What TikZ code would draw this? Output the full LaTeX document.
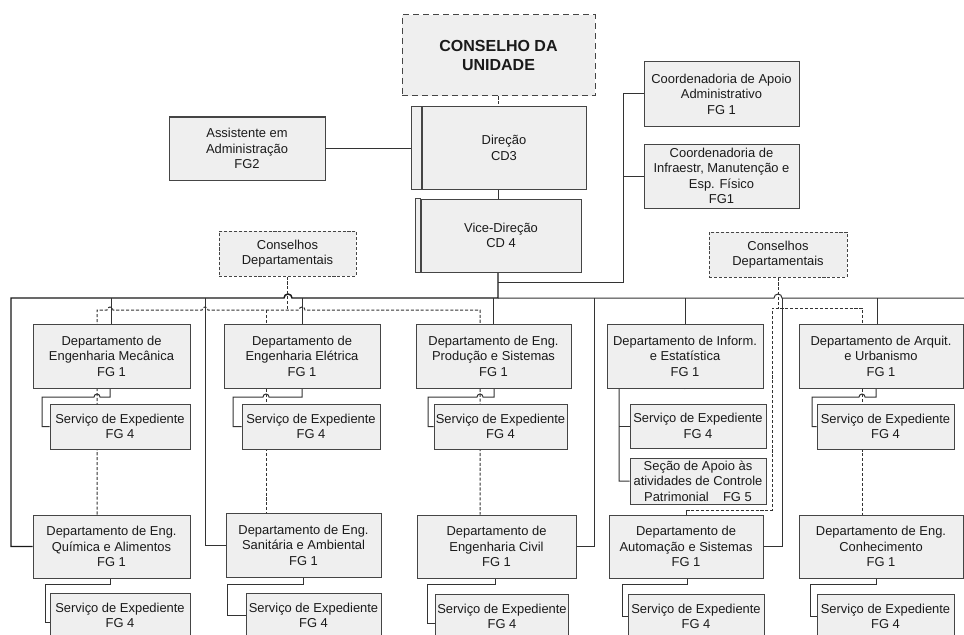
\documentclass[tikz,border=0pt]{standalone}
\usepackage{fontspec}
\setmainfont{Liberation Sans}
\usetikzlibrary{backgrounds}
\definecolor{boxfill}{HTML}{EFEFEF}
\definecolor{boxline}{HTML}{454545}
\definecolor{wire}{HTML}{333333}
\definecolor{ink}{HTML}{1A1A1A}

\begin{document}
\begin{tikzpicture}[x=0.75pt,y=-0.75pt,
  box/.style={draw=boxline, fill=boxfill, line width=0.75pt, align=center,
    inner sep=1pt, text=ink, font=\fontsize{9.7}{11.6}\selectfont},
  sz/.style 2 args={minimum width=#1*0.75pt, minimum height=#2*0.75pt},
  council/.style={box, dash pattern=on 2.3pt off 1.4pt},
  link/.style={draw=wire, line width=0.75pt},
  trunk/.style={draw=black!90, line width=1.1pt},
  dlink/.style={draw=wire, line width=0.75pt, dash pattern=on 2.3pt off 1.4pt},
]
\useasboundingbox (0,0) rectangle (964,635);

% --- top management ---
\node[box, dash pattern=on 4.5pt off 3pt, sz={193}{81},
      font=\fontsize{12}{14.3}\selectfont\bfseries] (cu) at (498.5,55.5) {CONSELHO DA\\UNIDADE};
\node[box, sz={164}{82}] (dir) at (504,148) {Direção\\CD3};
\node[box, sz={160}{73}] (vd) at (501,235.5) {Vice-Direção\\CD 4};
\draw[draw=boxline, fill=boxfill, line width=0.75pt] (dir.north west) rectangle ([xshift=-7.5pt]dir.south west);
\draw[draw=boxline, fill=boxfill, line width=0.75pt] (vd.north west) rectangle ([xshift=-3.75pt]vd.south west);
\coordinate (dirL) at ([xshift=-7.5pt]dir.west);

\node[box, sz={156}{63}] (asst) at (247,148.5) {Assistente em\\Administração\\FG2};
\node[box, sz={155}{64}] (cap) at (721.5,94) {Coordenadoria de Apoio\\Administrativo\\FG 1};
\node[box, sz={155}{64}] (cinf) at (721.5,176) {Coordenadoria de\\Infraestr, Manutenção e\\Esp. Físico\\FG1};

\node[council, sz={137}{45}] (cdL) at (287.5,253.5) {Conselhos\\Departamentais};
\node[council, sz={138}{45}] (cdR) at (778,254.5) {Conselhos\\Departamentais};

% --- departments, upper row ---
\node[box, sz={157}{64}] (mec) at (111.5,356) {Departamento de\\Engenharia Mecânica\\FG 1};
\node[box, sz={140}{45}] (sm) at (120,426.5) {Serviço de Expediente\\FG 4};
\node[box, sz={156}{64}] (ele) at (302,356) {Departamento de\\Engenharia Elétrica\\FG 1};
\node[box, sz={138}{45}] (se) at (311,426.5) {Serviço de Expediente\\FG 4};
\node[box, sz={155}{64}] (pro) at (493.5,356) {Departamento de Eng.\\Produção e Sistemas\\FG 1};
\node[box, sz={133}{45}] (sp) at (500.5,426.5) {Serviço de Expediente\\FG 4};
\node[box, sz={156}{64}] (inf) at (685,356) {Departamento de Inform.\\e Estatística\\FG 1};
\node[box, sz={136}{44}] (si) at (698,426) {Serviço de Expediente\\FG 4};
\node[box, sz={136}{46}] (sec) at (698,481) {Seção de Apoio às\\atividades de Controle\\Patrimonial\hspace{1.1em}FG 5};
\node[box, sz={164}{64}] (arq) at (881,356) {Departamento de Arquit.\\e Urbanismo\\FG 1};
\node[box, sz={137}{45}] (sar) at (885.5,426.5) {Serviço de Expediente\\FG 4};

% --- departments, lower row ---
\node[box, sz={157}{63}] (qui) at (111.5,546.5) {Departamento de Eng.\\Química e Alimentos\\FG 1};
\node[box, sz={140}{45}] (sq) at (120,615.5) {Serviço de Expediente\\FG 4};
\node[box, sz={155}{64}] (san) at (303.5,545) {Departamento de Eng.\\Sanitária e Ambiental\\FG 1};
\node[box, sz={135}{45}] (ss) at (313.5,615.5) {Serviço de Expediente\\FG 4};
\node[box, sz={159}{63}] (civ) at (496.5,546.5) {Departamento de\\Engenharia Civil\\FG 1};
\node[box, sz={132}{45}] (sc) at (502,616.5) {Serviço de Expediente\\FG 4};
\node[box, sz={154}{63}] (aut) at (686,546.5) {Departamento de\\Automação e Sistemas\\FG 1};
\node[box, sz={136}{45}] (sa) at (696,616.5) {Serviço de Expediente\\FG 4};
\node[box, sz={164}{63}] (con) at (881,546.5) {Departamento de Eng.\\Conhecimento\\FG 1};
\node[box, sz={137}{45}] (scn) at (885.5,616.5) {Serviço de Expediente\\FG 4};

\begin{pgfonlayer}{background}
  % council to direction
  \draw[dlink] (cu.south) -- (cu.south |- dir.north);
  \draw[link] (cu.south |- dir.south) -- (cu.south |- vd.north);
  \draw[link] (asst.east) -- (asst.east -| dirL);

  % main trunk
  \coordinate (b0) at (11,298);
  \coordinate (v0) at (498,298);
  \draw[trunk] (qui.west) -| (b0) -- (284,298) arc[start angle=180,end angle=0,radius=3pt]
        -- (v0) -- (v0 |- vd.south);
  \draw[link] (v0) -- (774,298) arc[start angle=180,end angle=0,radius=3pt] -- (990,298);

  % coordinations
  \coordinate (k0) at (498,282);
  \coordinate (k1) at (623,282);
  \draw[link] (k0) -- (k1) |- (cap.west);
  \draw[link] (k1 |- cinf.west) -- (cinf.west);

  % drops from the trunk
  \draw[link] (mec.north |- v0) -- (mec.north);
  \draw[link] (205,298) |- (san.west);
  \draw[link] (ele.north |- v0) -- (ele.north);
  \draw[link] (pro.north |- v0) -- (pro.north);
  \draw[link] (594,298) |- (civ.east);
  \draw[link] (inf.north |- v0) -- (inf.north);
  \draw[link] (782,298) |- (aut.east);
  \coordinate (aq) at ([xshift=-3pt]arq.north);
  \draw[link] (aq |- v0) -- (aq);
  \draw[link] (con.east) -- ++(30,0);

  % departmental councils (left)
  \coordinate (jL) at (288,310);
  \coordinate (dA) at (97,310);
  \coordinate (dB) at (266,310);
  \coordinate (dC) at (480,310);
  \draw[dlink] (cdL.south) -- (cdL.south |- jL);
  \draw[dlink] (dA |- qui.north) -- (dA)
     -- (107,310) arc[start angle=180,end angle=0,radius=2.25pt]
     -- (202,310) arc[start angle=180,end angle=0,radius=2.25pt]
     -- (299,310) arc[start angle=180,end angle=0,radius=2.25pt]
     -- (dC) -- (dC |- civ.north);
  \draw[dlink] (dB) -- (dB |- san.north);

  % departmental councils (right)
  \coordinate (r1) at (772,308);
  \coordinate (r2) at (862,308);
  \coordinate (r3) at (772,510);
  \draw[dlink] (cdR.south) -- (cdR.south |- r1);
  \draw[dlink] (aut.north) |- (r3) -- (r1) -- (r2) -- (r2 |- con.north);

  % department to service, upper row
  \draw[link] (110,388) -- (110,397) -- (100,397) arc[start angle=0,end angle=180,radius=2.25pt] -- (42,397) |- (sm.west);
  \draw[link] (302,388) -- (302,397) -- (269,397) arc[start angle=0,end angle=180,radius=2.25pt] -- (233,397) |- (se.west);
  \draw[link] (494,388) -- (494,397) -- (483,397) arc[start angle=0,end angle=180,radius=2.25pt] -- (428,397) |- (sp.west);
  \draw[link] (876,388) -- (876,397) -- (865,397) arc[start angle=0,end angle=180,radius=2.25pt] -- (812,397) |- (sar.west);
  \draw[link] (inf.south) -- (619,388) |- (sec.west);
  \draw[link] (619,426) -- (si.west);

  % department to service, lower row
  \draw[link] (110,578) |- (45,584) |- ([yshift=-5.6pt]sq.west);
  \draw[link] (303,577) |- (227,584) |- (ss.west);
  \draw[link] (495,578) |- (427,584) |- ([yshift=-5.3pt]sc.west);
  \draw[link] (687,578) |- (622,584) |- (sa.west);
  \draw[link] (876,578) |- (810,584) |- (scn.west);
\end{pgfonlayer}
\end{tikzpicture}
\end{document}
